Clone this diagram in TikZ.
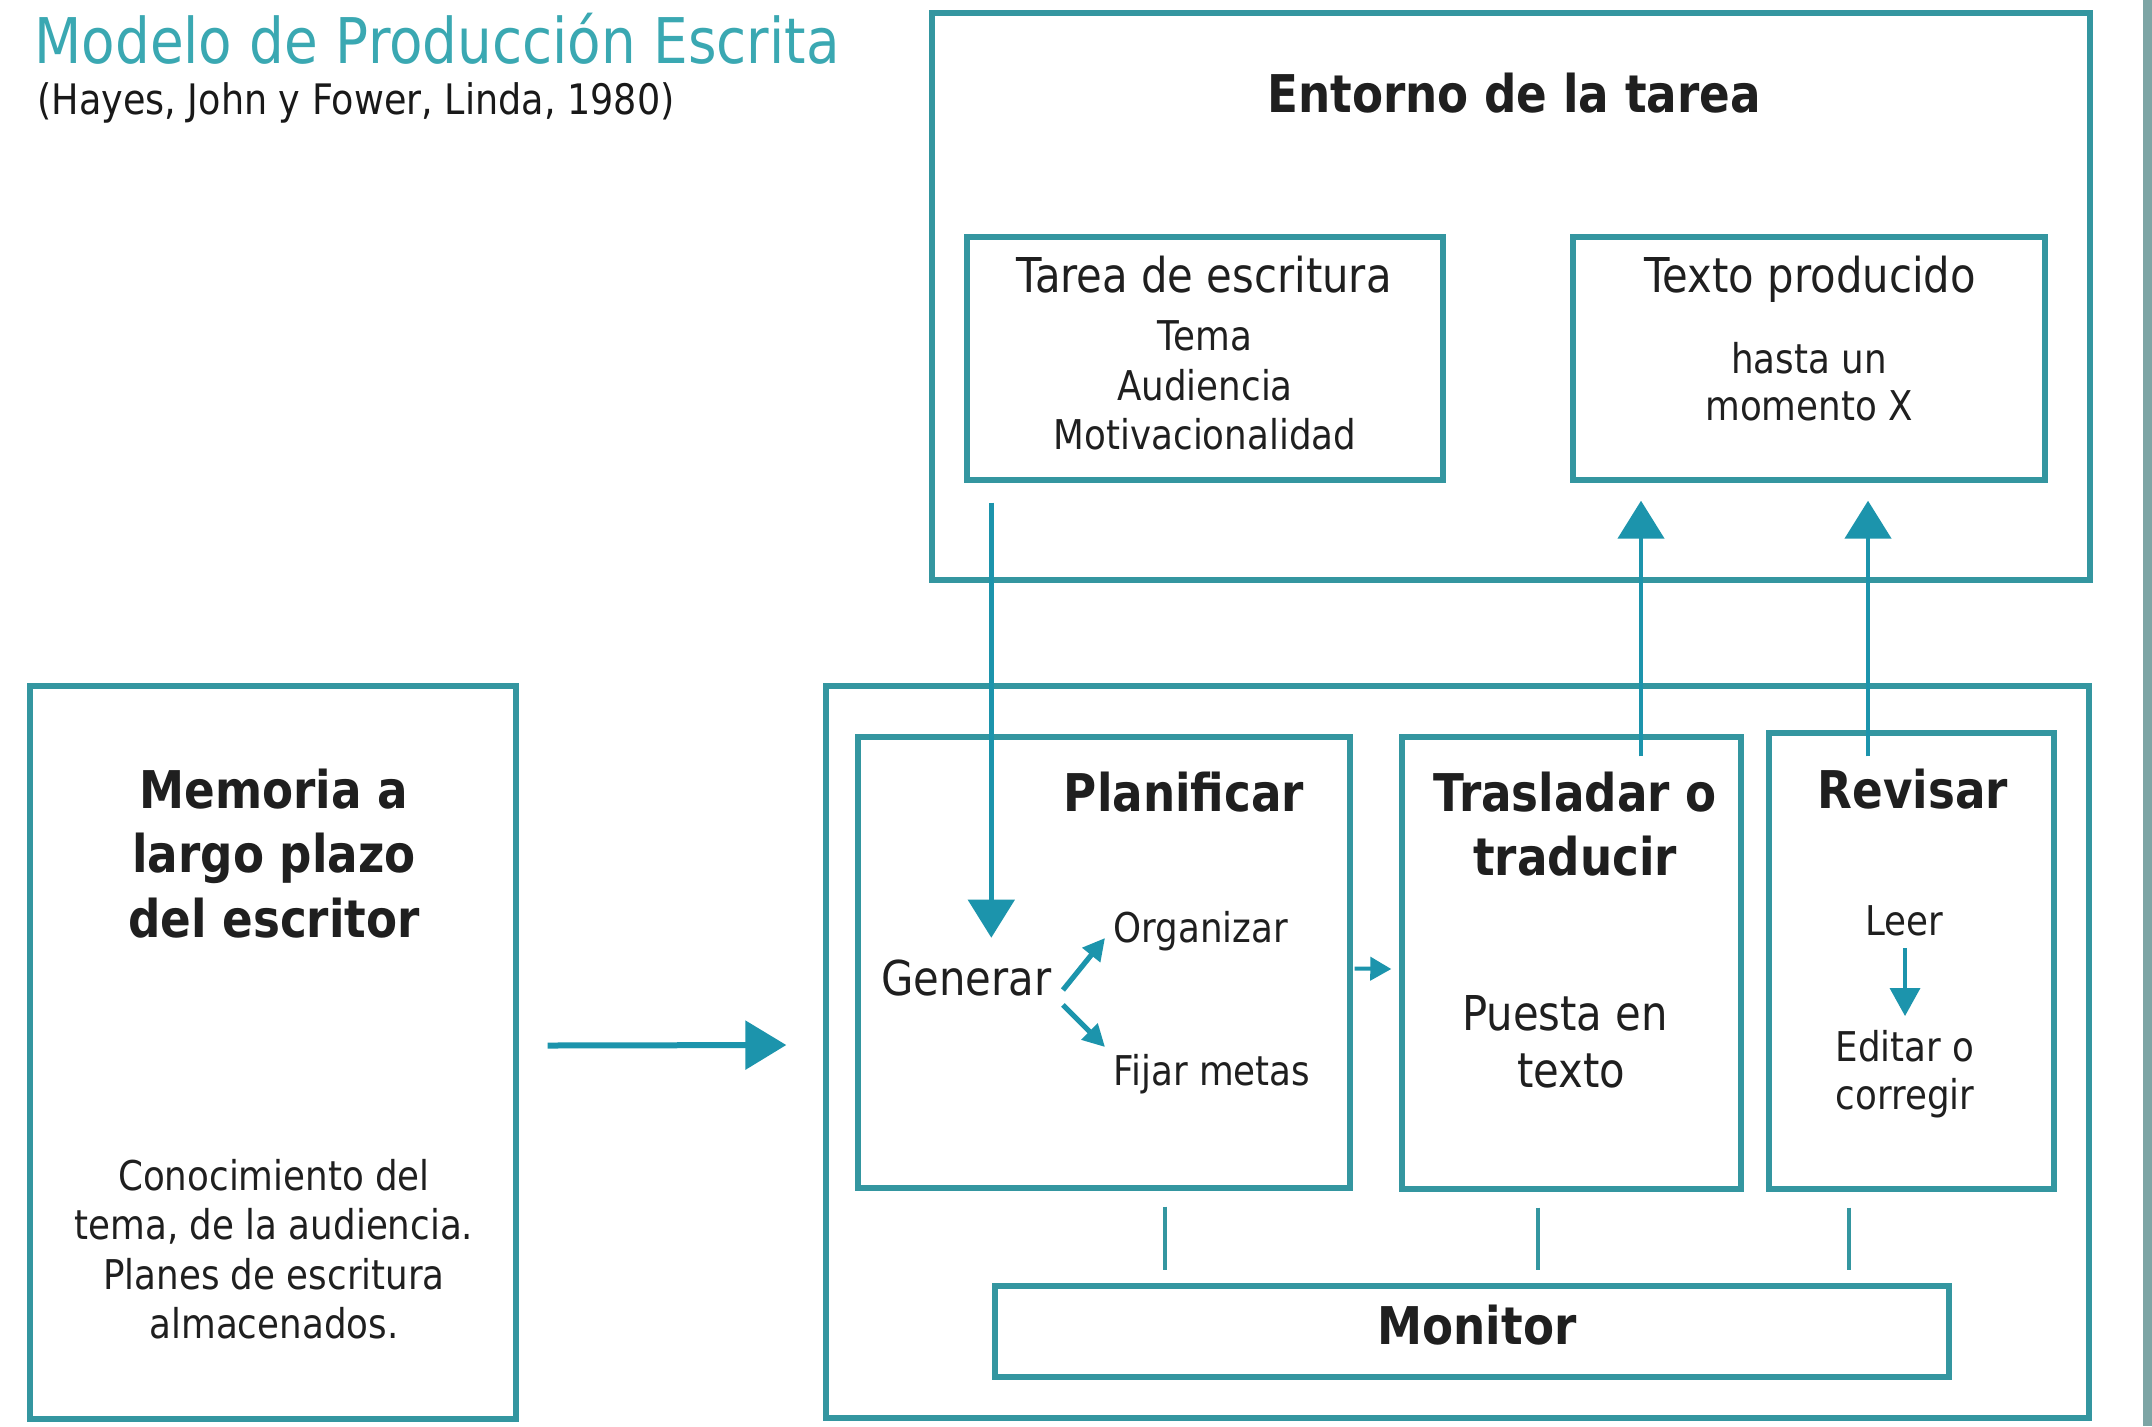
\documentclass[tikz,border=0pt]{standalone}
\usepackage{fontspec}
\setmainfont{DejaVu Sans}[FakeStretch=0.87]
\usetikzlibrary{arrows.meta,calc,fit}
\definecolor{boxcol}{RGB}{52,150,160}
\definecolor{arrcol}{RGB}{28,148,172}
\definecolor{titlecol}{RGB}{58,168,178}
\definecolor{barcol}{RGB}{125,165,165}
\tikzset{
  box/.style={draw=boxcol, line width=2.7pt, inner sep=0pt, fill=none},
  txt/.style={inner sep=0pt, anchor=base, align=center, text=black!88},
  hd/.style={txt, font=\fontsize{26}{32}\selectfont\bfseries},
  md/.style={txt, font=\fontsize{24}{29}\selectfont},
  sm/.style={txt, font=\fontsize{20.5}{24.75}\selectfont},
  bigarr/.style={draw=arrcol, line width=2.4pt, -{Triangle[length=19pt,width=23pt]}},
  memarr/.style={draw=arrcol, line width=3pt, -{Triangle[length=20.5pt,width=24pt]}},
  midarr/.style={draw=arrcol, line width=2pt, -{Triangle[length=10.5pt,width=11.5pt]}},
  smarr/.style={draw=arrcol, line width=2.6pt, -{Triangle[length=11pt,width=11pt]}},
  leerarr/.style={draw=arrcol, line width=1.8pt, -{Triangle[length=14pt,width=15pt]}},
  mline/.style={draw=boxcol, line width=2pt},
}
\begin{document}
\begin{tikzpicture}[x=0.5pt, y=-0.5pt]
\useasboundingbox (0,0) rectangle (2152,1426);
\fill[white] (0,0) rectangle (2152,1426);
\fill[barcol] (2143,0) rectangle (2152,1426);

% title
\node[inner sep=0pt, anchor=base west, text=titlecol, font=\fontsize{31.5}{38}\selectfont] (title) at (34,63) {Modelo de Producción Escrita};
\node[inner sep=0pt, anchor=base west, text=black!90, font=\fontsize{21}{25}\selectfont] (subtitle) at (37,114) {(Hayes, John y Fower, Linda, 1980)};

% boxes
\node[box, fit={(932,13)(2090,580)}] (env) {};
\node[box, fit={(967,237)(1443,480)}] (tarea) {};
\node[box, fit={(1573,237)(2045,480)}] (texto) {};
\node[box, fit={(30,686)(516,1419)}] (mem) {};
\node[box, fit={(826,686)(2089,1418)}] (proc) {};
\node[box, fit={(858,737)(1350,1188)}] (plan) {};
\node[box, fit={(1402,737)(1741,1189)}] (trad) {};
\node[box, fit={(1769,733)(2054,1189)}] (rev) {};
\node[box, fit={(995,1286)(1949,1377)}] (mon) {};

% texts
\node[hd] (entorno) at (1514,112) {Entorno de la tarea};
\node[md] (tareat) at (1204,292) {Tarea de escritura};
\node[sm] (tema) at (1205,350) {Tema};
\node[sm] (aud) at (1205,400) {Audiencia};
\node[sm] (motiv) at (1205,449) {Motivacionalidad};
\node[md] (textot) at (1810,292) {Texto producido};
\node[sm] (hasta) at (1809,373) {hasta un};
\node[sm] (momento) at (1809,420) {momento X};

\node[hd] (mem1) at (274,808) {Memoria a};
\node[hd] (mem2) at (274,872) {largo plazo};
\node[hd] (mem3) at (274,937) {del escritor};
\node[sm] (con1) at (274,1190) {Conocimiento del};
\node[sm] (con2) at (274,1239) {tema, de la audiencia.};
\node[sm] (con3) at (274,1289) {Planes de escritura};
\node[sm] (con4) at (274,1338) {almacenados.};

\node[hd] (planif) at (1184,811) {Planificar};
\node[md, anchor=base west] (gen) at (881,995) {Generar};
\node[sm, anchor=base west] (org) at (1113,942) {Organizar};
\node[sm, anchor=base west] (fij) at (1113,1085) {Fijar metas};

\node[hd] (tras1) at (1575,811) {Trasladar o};
\node[hd] (tras2) at (1575,875) {traducir};
\node[md] (pue1) at (1565,1030) {Puesta en};
\node[md] (pue2) at (1571,1087) {texto};

\node[hd] (revt) at (1913,808) {Revisar};
\node[sm] (leer) at (1904,935) {Leer};
\node[sm] (edit1) at (1905,1061) {Editar o};
\node[sm] (edit2) at (1905,1109) {corregir};

\node[hd] (monitor) at (1477,1344) {Monitor};

% connectors
\draw[bigarr] ($(tarea.south west)+(27,20)$) -- ($(tarea.south west)+(27,455)$);
\draw[bigarr] ($(trad.north)+(69.5,22)$) -- ($(texto.south)+(-168,18)$);
\draw[bigarr] ($(rev.north)+(-43.5,26)$) -- ($(texto.south)+(59,18)$);
\draw[memarr] ($(mem.east)+(29,-7)$) -- ($(proc.west)+(-37,-7)$);
\draw[midarr] ($(plan.east)+(2,6)$) -- ($(trad.west)+(-8,6)$);
\draw[smarr] ($(gen.base east)+(11,-5)$) -- ($(org.base west)+(-8,-4)$);
\draw[smarr] ($(gen.base east)+(11,10)$) -- ($(fij.base west)+(-8,-38)$);
\draw[leerarr] ($(leer.base)+(1,13)$) -- ($(edit1.base)+(0,-45)$);

\draw[mline] ($(plan.south)+(61,16)$) coordinate (m1) -- ($(m1 |- mon.north)+(0,-13)$);
\draw[mline] ($(trad.south)+(-33.5,16)$) coordinate (m2) -- ($(m2 |- mon.north)+(0,-13)$);
\draw[mline] ($(rev.south)+(-62.5,16)$) coordinate (m3) -- ($(m3 |- mon.north)+(0,-13)$);
\end{tikzpicture}
\end{document}
